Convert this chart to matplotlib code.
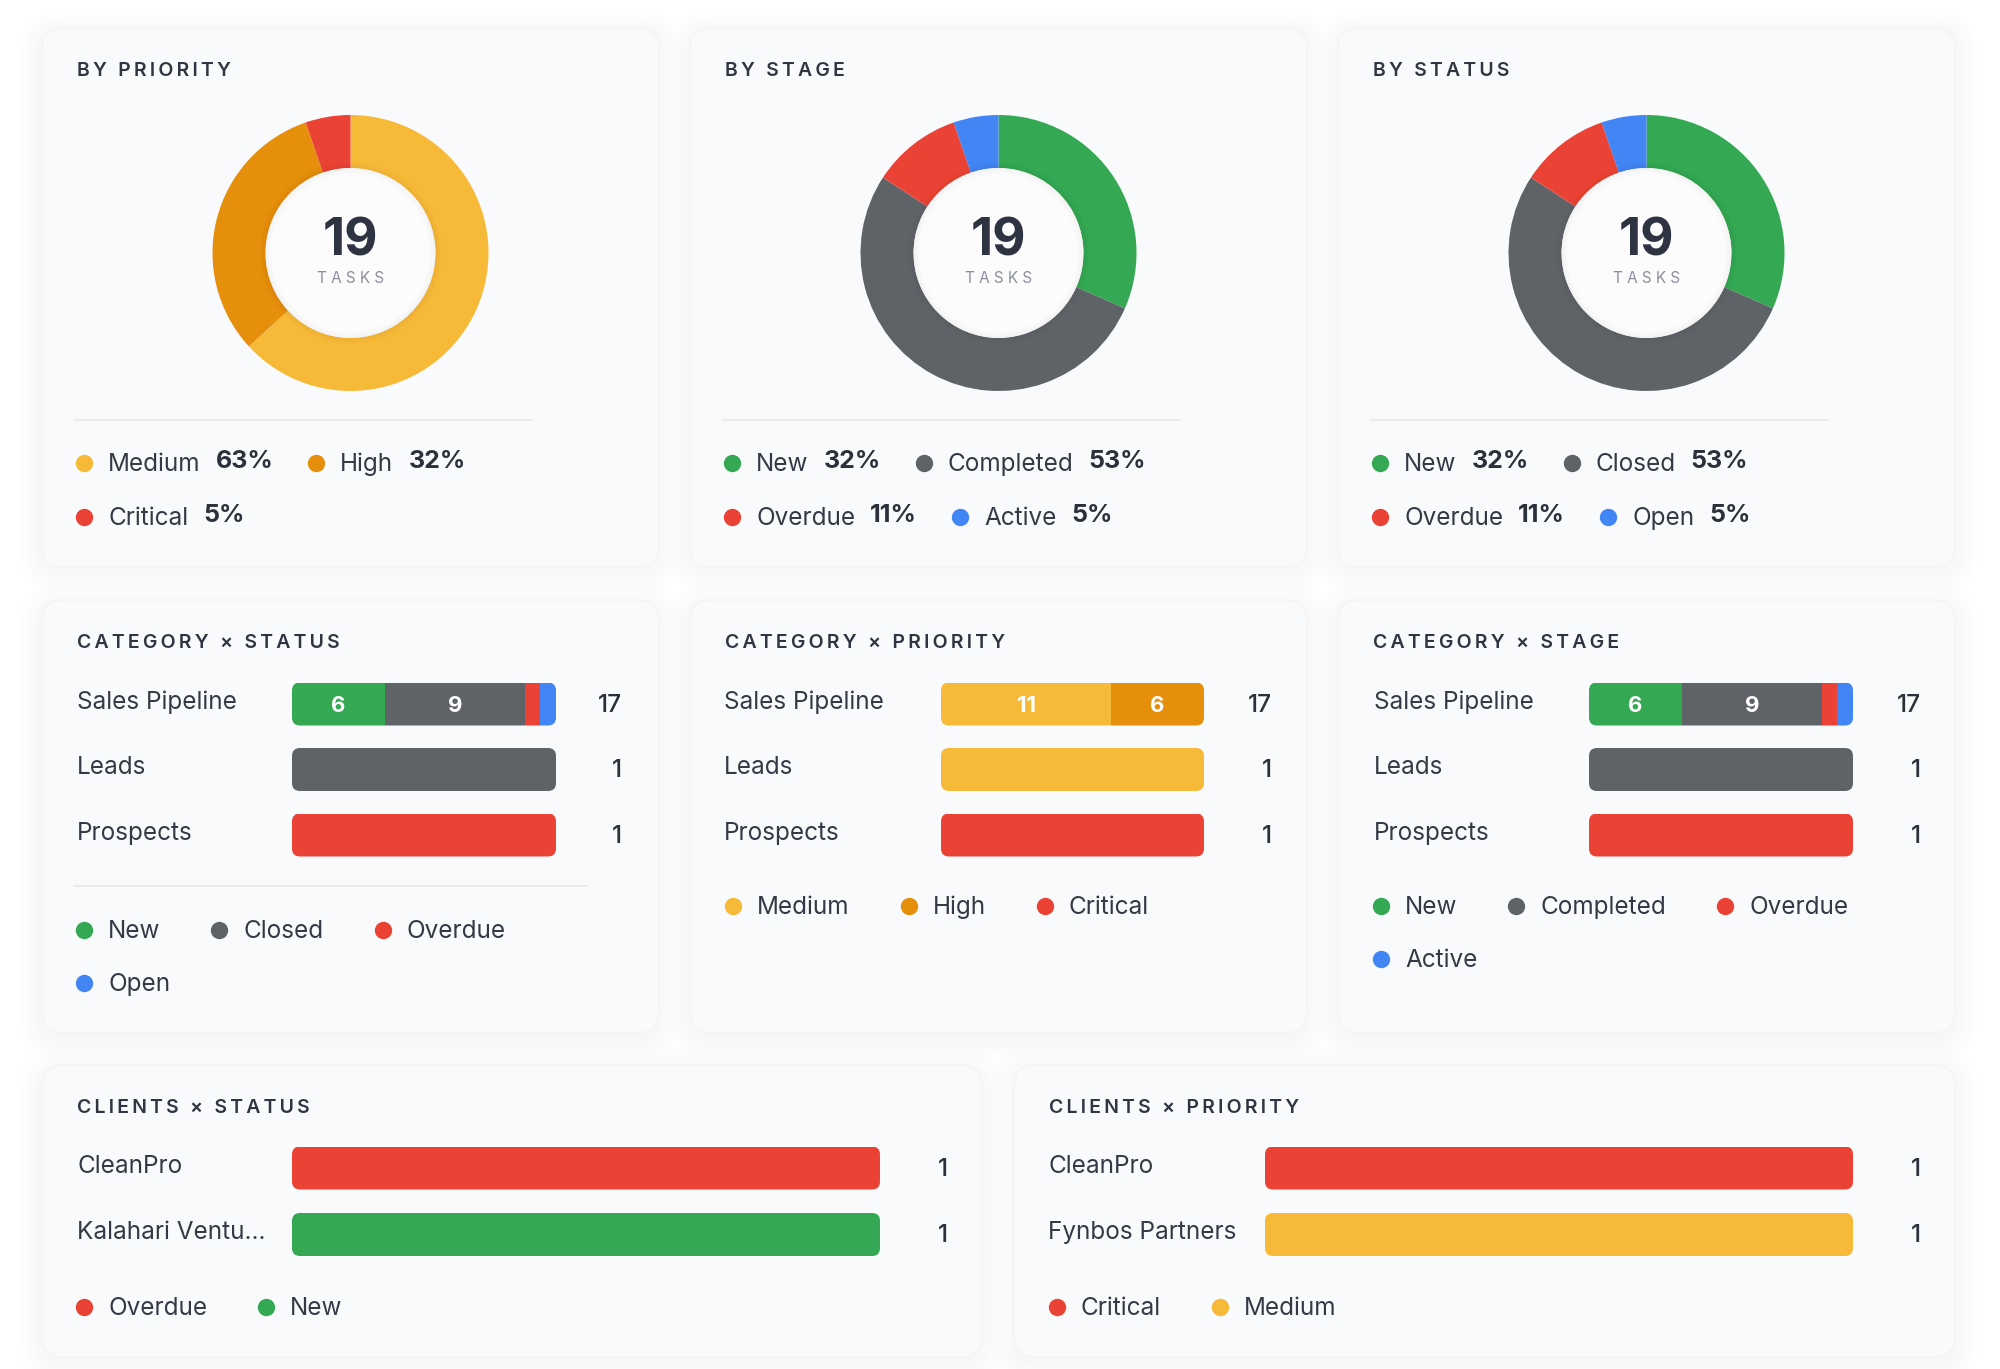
import numpy as np
import matplotlib
matplotlib.use("Agg")
import matplotlib.pyplot as plt
from matplotlib.patches import FancyBboxPatch, Circle
from matplotlib.transforms import blended_transform_factory

plt.rcParams['font.family'] = ['Inter', 'DejaVu Sans']

# ---- data ----
total_tasks = 19
priority_names = ['Medium', 'High', 'Critical']
priority_counts = [12, 6, 1]
stage_names = ['New', 'Completed', 'Overdue', 'Active']
stage_counts = [6, 10, 2, 1]
status_names = ['New', 'Closed', 'Overdue', 'Open']
status_counts = [6, 10, 2, 1]

categories = ['Sales Pipeline', 'Leads', 'Prospects']
cat_status = [[6, 0, 0], [9, 1, 0], [1, 0, 1], [1, 0, 0]]      # New, Closed, Overdue, Open
cat_priority = [[11, 1, 0], [6, 0, 0], [0, 0, 1]]              # Medium, High, Critical
cat_stage = [[6, 0, 0], [9, 1, 0], [1, 0, 1], [1, 0, 0]]       # New, Completed, Overdue, Active

clients_st = ['CleanPro', 'Kalahari Ventu\u2026']
clients_st_names = ['Overdue', 'New']
clients_st_vals = [[1, 0], [0, 1]]
clients_pr = ['CleanPro', 'Fynbos Partners']
clients_pr_names = ['Critical', 'Medium']
clients_pr_vals = [[1, 0], [0, 1]]

GREEN, GRAY, RED, BLUE = '#34a853', '#5f6368', '#ea4335', '#4285f4'
MED, HIGH = '#f7b938', '#e68f0c'
colors = {'New': GREEN, 'Closed': GRAY, 'Completed': GRAY, 'Overdue': RED,
          'Open': BLUE, 'Active': BLUE, 'Medium': MED, 'High': HIGH, 'Critical': RED}
TXT = '#2f3541'
FS = 17.5

W, H = 2000, 1369
fig = plt.figure(figsize=(W / 100, H / 100), dpi=100)
fig.patch.set_facecolor('white')
bg = fig.add_axes([0, 0, 1, 1])
bg.set_xlim(0, W)
bg.set_ylim(H, 0)
bg.axis('off')
renderer = fig.canvas.get_renderer()


def px_axes(x0, y0, x1, y1):
    ax = fig.add_axes([x0 / W, 1 - y1 / H, (x1 - x0) / W, (y1 - y0) / H])
    ax.axis('off')
    return ax


def spaced(s):
    # letter-spaced caps, as in the dashboard headings
    return '\u2009'.join(s)


def card(x0, y0, x1, y1, title):
    for k in range(8):
        e = 2 + k * 3
        bg.add_patch(FancyBboxPatch((x0 - e, y0 - e + 5), x1 - x0 + 2 * e, y1 - y0 + 2 * e,
                                    boxstyle="round,pad=0,rounding_size=%d" % (22 + e),
                                    fc='black', ec='none', alpha=0.005, zorder=1))
    bg.add_patch(FancyBboxPatch((x0, y0), x1 - x0, y1 - y0, boxstyle="round,pad=0,rounding_size=22",
                                fc='#f9fafb', ec='#f3f4f6', lw=1, zorder=2))
    bg.text(x0 + 35, y0 + 43, spaced(title), fontsize=14, fontweight='semibold', color=TXT,
            va='center', ha='left', zorder=3)


def legend(items, x0, y0, xmax, gap, row_h):
    x, y = x0, y0
    for name, pct in items:
        t = bg.text(0, 0, name, fontsize=FS, color='#343a45', va='baseline', zorder=3)
        w = t.get_window_extent(renderer).width
        p = None
        if pct is not None:
            p = bg.text(0, 0, pct, fontsize=18, fontweight='bold', color='#2b313b', va='baseline', zorder=3)
            w += 15 + p.get_window_extent(renderer).width
        if x > x0 and x + 24 + w > xmax:
            x = x0
            y += row_h
        bg.plot(x, y, 'o', ms=12.5, color=colors[name], mec='none', zorder=3)
        t.set_position((x + 24, y + 8))
        if p is not None:
            p.set_position((x + 24 + t.get_window_extent(renderer).width + 15, y + 5))
        x += 24 + w + gap


def donut(cx, cy, R, names, counts):
    ax = px_axes(cx - R, cy - R, cx + R, cy + R)
    ax.pie(counts, colors=[colors[n] for n in names], startangle=90, counterclock=False,
           radius=1, wedgeprops=dict(width=0.385, linewidth=0))
    ax.add_patch(Circle((0, 0), 0.616, fc='#fcfcfd', ec='none'))
    for k in range(5):
        ax.add_patch(Circle((0, 0), 0.616, fc='none', ec='black', lw=1 + 2 * k, alpha=0.007))
    ax.set_xlim(-1, 1)
    ax.set_ylim(-1, 1)
    ax.text(0, -0.02, str(sum(counts)), ha='center', va='baseline', fontsize=37,
            fontweight='bold', color='#2d3340')
    ax.text(0, -0.215, 'T A S K S', ha='center', va='baseline', fontsize=11, color='#8a8f99')


def bars(x0, x1, y_first, row_gap, labels, names, vals, label_x, count_x):
    n = len(labels)
    ax = px_axes(x0, y_first - row_gap / 2, x1, y_first + (n - 0.5) * row_gap)
    ax.set_xlim(0, 1)
    ax.set_ylim(n - 0.5, -0.5)
    vals = np.array(vals, dtype=float)
    totals = vals.sum(axis=0)
    h = 43 / row_gap
    pxx = x1 - x0
    clips = []
    for i in range(n):
        p = FancyBboxPatch((0, i - h / 2), 1, h, boxstyle="round,pad=0,rounding_size=%f" % (8 / pxx),
                           mutation_aspect=pxx / row_gap, transform=ax.transData, fc='none', ec='none')
        ax.add_patch(p)
        clips.append(p)
    left = np.zeros(n)
    nseg = (vals > 0).sum(axis=0)
    for name, v in zip(names, vals):
        frac = v / totals
        bc = ax.barh(range(n), frac, left=left, height=h, color=colors[name], linewidth=0)
        for i, b in enumerate(bc):
            b.set_clip_path(clips[i])
            if nseg[i] > 1 and frac[i] > 0.12:
                ax.text(left[i] + frac[i] / 2, i + 0.03, '%d' % v[i], ha='center', va='center',
                        color='white', fontsize=16, fontweight='bold')
        left += frac
    tr = blended_transform_factory(ax.transAxes, ax.transData)
    for i, lab in enumerate(labels):
        ax.text((label_x - x0) / pxx, i - 0.03, lab, transform=tr, ha='left', va='center',
                fontsize=FS, color='#343a45')
        ax.text((count_x - x0) / pxx, i + 0.02, '%d' % totals[i], transform=tr, ha='right', va='center',
                fontsize=FS, color='#2b313b', fontweight='medium')


cols = [(42, 659), (690, 1307), (1338, 1955)]

# ---- row 1: donuts ----
donut_sets = [('BY PRIORITY', priority_names, priority_counts),
              ('BY STAGE', stage_names, stage_counts),
              ('BY STATUS', status_names, status_counts)]
for (x0, x1), (title, names, counts) in zip(cols, donut_sets):
    card(x0, 28, x1, 567, title)
    donut((x0 + x1) / 2, 253, 138, names, counts)
    bg.plot([x0 + 32, x0 + 490], [420, 420], color='#e6e8eb', lw=1.2, zorder=3)
    items = [(n, '%d%%' % round(100 * c / total_tasks)) for n, c in zip(names, counts)]
    legend(items, x0 + 42, 463, x1 - 40, 43, 54)

# ---- row 2: category bars ----
card(42, 600, 659, 1033, 'CATEGORY \u00d7 STATUS')
bars(292, 556, 704, 65.5, categories, status_names, cat_status, 77, 622)
bg.plot([74, 587], [886, 886], color='#e6e8eb', lw=1.2, zorder=3)
legend([(n, None) for n in status_names], 84, 930, 619, 59, 53)

card(690, 600, 1307, 1033, 'CATEGORY \u00d7 PRIORITY')
bars(941, 1204, 704, 65.5, categories, priority_names, cat_priority, 724, 1272)
legend([(n, None) for n in priority_names], 733, 906, 1267, 59, 53)

card(1338, 600, 1955, 1033, 'CATEGORY \u00d7 STAGE')
bars(1589, 1853, 704, 65.5, categories, stage_names, cat_stage, 1374, 1921)
legend([(n, None) for n in stage_names], 1381, 906, 1915, 59, 53)

# ---- row 3: clients ----
card(42, 1065, 982, 1357, 'CLIENTS \u00d7 STATUS')
bars(292, 880, 1168, 66.5, clients_st, clients_st_names, clients_st_vals, 77, 948)
legend([(n, None) for n in clients_st_names], 84, 1307, 940, 59, 53)

card(1014, 1065, 1955, 1357, 'CLIENTS \u00d7 PRIORITY')
bars(1265, 1853, 1168, 66.5, clients_pr, clients_pr_names, clients_pr_vals, 1048, 1921)
legend([(n, None) for n in clients_pr_names], 1057, 1307, 1915, 59, 53)

fig.savefig('out.png', dpi=100, facecolor='white')
